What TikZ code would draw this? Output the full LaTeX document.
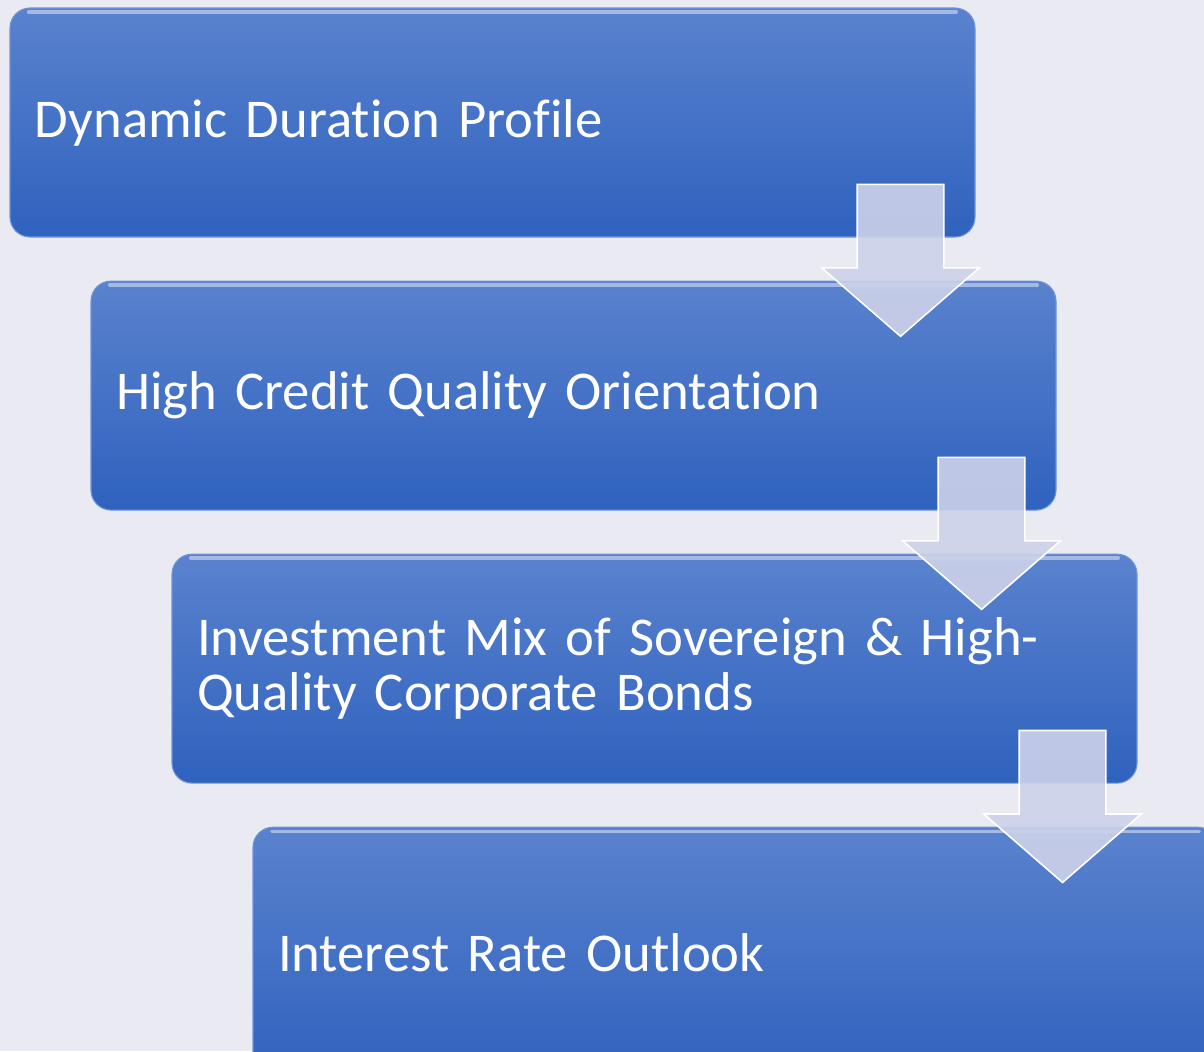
\documentclass[tikz,border=0pt]{standalone}
\usepackage{fontspec}
\setmainfont{Carlito}[Ligatures=NoCommon]
\usetikzlibrary{positioning,shapes.arrows}
\usepackage{xcolor}
\definecolor{bgc}{HTML}{EAEAF3}
\definecolor{boxtop}{HTML}{5A82CE}
\definecolor{boxbot}{HTML}{2F62BE}
\definecolor{boxedge}{HTML}{6E95DA}
\definecolor{arrfill}{HTML}{CDD2EA}

\begin{document}
\begin{tikzpicture}[
  x=0.75pt,y=-0.75pt,
  node distance=32.25pt,
  every node/.style={inner sep=0pt},%
  b/.style={rounded corners=15pt,top color=boxtop,bottom color=boxbot,
    draw=boxedge,line width=0.8pt,
    minimum width=723.75pt,minimum height=171.75pt,
    text width=686.25pt,align=left,text=white,
    font=\fontsize{41pt}{41pt}\selectfont,
    path picture={\draw [white!45!boxtop,line width=2.5pt,line cap=round]
      ([xshift=14pt,yshift=-3pt]path picture bounding box.north west) --
      ([xshift=-14pt,yshift=-3pt]path picture bounding box.north east);}},%
  a/.style={single arrow,shape border rotate=270,anchor=tail,
    inner sep=31.9pt,minimum height=114pt,
    single arrow head extend=26.6pt,single arrow tip angle=98,
    fill=arrfill,fill opacity=0.9,draw=white,line width=1.2pt},%
  ]

  \clip (0,0) rectangle (1204,1051);
  \fill [bgc] (0,0) rectangle (1204,1051);

  \node (duration) [b] at (492.5,122.5) {Dynamic Duration Profile};

  \node (credit) [b,
  below =of duration,
  xshift=60.75pt,
  ] {High Credit Quality Orientation};

  \node (mix) [b,
  below =of credit,
  xshift=60.75pt,
  ] {Investment Mix of Sovereign \& High-\\Quality Corporate Bonds};

  \node (outlook) [b,
  below =of mix,
  xshift=60.75pt,
  minimum height=188.25pt,
  ] {Interest Rate Outlook};

  % arrows between the steps
  \node (a1) [a] at ([xshift=-56.25pt,yshift=40.5pt]duration.south east) {};
  \node (a2) [a] at ([xshift=-56.25pt,yshift=40.5pt]credit.south east) {};
  \node (a3) [a] at ([xshift=-56.25pt,yshift=40.5pt]mix.south east) {};
\end{tikzpicture}
\end{document}
